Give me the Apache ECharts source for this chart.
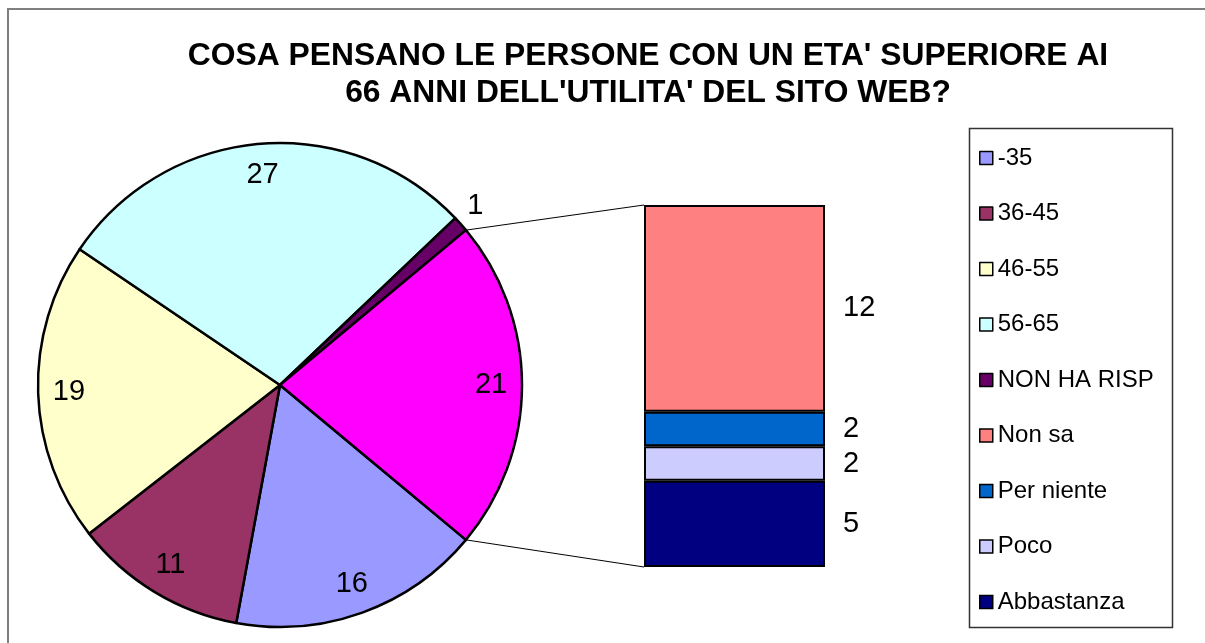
<!DOCTYPE html>
<html lang="it">
<head>
  <meta charset="UTF-8">
  <title>Utilità del sito web - over 66</title>
  <style>
    html, body { margin: 0; padding: 0; background: #fff; }
    #chart { width: 1205px; height: 643px; }
  </style>
</head>
<body>
<div id="chart"></div>
<script src="https://cdn.jsdelivr.net/npm/echarts@6/dist/echarts.min.js"></script>
<script>
  // dati della torta principale (in senso orario dal bordo basso della fetta "altro")
  var pieNames = ['-35', '36-45', '46-55', '56-65', 'NON HA RISP', 'Altro'];
  var pieValues = [16, 11, 19, 27, 1, 21];
  var pieColors = ['#9999FF', '#993366', '#FFFFCC', '#CCFFFF', '#660066', '#FF00FF'];

  // dati della barra (dal basso verso l'alto)
  var barNames = ['Abbastanza', 'Poco', 'Per niente', 'Non sa'];
  var barValues = [5, 2, 2, 12];
  var barColors = ['#000080', '#CCCCFF', '#0066CC', '#FF8080'];

  var legendNames = ['-35', '36-45', '46-55', '56-65', 'NON HA RISP', 'Non sa', 'Per niente', 'Poco', 'Abbastanza'];

  // layout
  var font = "'Liberation Sans', Arial, sans-serif";
  var cx = 280, cy = 385, R = 242;
  var barBox = { left: 644, top: 205, width: 181, height: 362 };

  var total = pieValues.reduce(function (a, b) { return a + b; }, 0);
  var other = pieValues[pieValues.length - 1];
  var half = other / total * 180;           // mezza ampiezza della fetta "altro"
  var barSum = barValues.reduce(function (a, b) { return a + b; }, 0);

  var pieData = pieNames.map(function (n, i) {
    return { name: n, value: pieValues[i], itemStyle: { color: pieColors[i] } };
  });
  var labelData = pieNames.map(function (n, i) {
    var d = { name: n, value: pieValues[i] };
    if (pieValues[i] / total < 0.03) {
      // fetta troppo piccola: etichetta fuori
      d.label = { position: 'outside', offset: [-9, -9] };
      d.labelLine = { show: false, length: 14, length2: 0 };
    }
    return d;
  });

  var barSeries = barNames.map(function (n, i) {
    return {
      name: n,
      type: 'bar',
      stack: 'altro',
      barWidth: '100%',
      data: [barValues[i]],
      itemStyle: { color: barColors[i], borderColor: '#000', borderWidth: 2 },
      label: {
        show: true, position: 'right', distance: 18,
        fontSize: 29, fontFamily: font, color: '#000'
      },
      emphasis: { disabled: true },
      silent: true
    };
  });

  // linee di collegamento torta -> barra
  var rad = half * Math.PI / 180;
  var px = cx + R * Math.cos(rad);
  var pyTop = cy - R * Math.sin(rad);
  var pyBot = cy + R * Math.sin(rad);

  var myChart = echarts.init(document.getElementById('chart'));
  var options = {
    animation: false,
    backgroundColor: '#fff',
    title: {
      text: "COSA PENSANO LE PERSONE CON UN ETA' SUPERIORE AI\n66 ANNI DELL'UTILITA' DEL SITO WEB?",
      left: 643,
      top: 33,
      textAlign: 'center',
      textStyle: { fontFamily: font, fontSize: 31.8, fontWeight: 'bold', color: '#000', lineHeight: 37 }
    },
    legend: {
      data: legendNames,
      orient: 'vertical',
      left: 979,
      top: 146,
      padding: 0,
      icon: 'rect',
      itemWidth: 13,
      itemHeight: 13,
      itemGap: 31.5,
      itemStyle: { borderColor: '#000', borderWidth: 1.5 },
      textStyle: { fontFamily: font, fontSize: 24, lineHeight: 24, color: '#000' },
      selectedMode: false
    },
    grid: { left: barBox.left, top: barBox.top, width: barBox.width, height: barBox.height },
    xAxis: { type: 'category', data: ['altro'], show: false },
    yAxis: { type: 'value', min: 0, max: barSum, show: false },
    series: [
      {
        name: 'torta',
        type: 'pie',
        center: [cx, cy],
        radius: R,
        startAngle: -half,
        clockwise: true,
        avoidLabelOverlap: false,
        label: { show: false },
        labelLine: { show: false },
        itemStyle: { borderColor: '#000', borderWidth: 2.5 },
        emphasis: { disabled: true },
        silent: true,
        data: pieData
      },
      {
        name: 'etichette',
        type: 'pie',
        center: [cx, cy],
        radius: [R * 0.72, R],
        startAngle: -half,
        clockwise: true,
        avoidLabelOverlap: false,
        itemStyle: { color: 'rgba(0,0,0,0)' },
        label: { show: true, position: 'inside', fontSize: 29, fontFamily: font, color: '#000', formatter: '{c}' },
        labelLine: { show: false },
        emphasis: { disabled: true },
        silent: true,
        data: labelData
      }
    ].concat(barSeries),
    graphic: [
      {
        type: 'rect', silent: true,
        shape: { x: 8, y: 9, width: 1230, height: 700 },
        style: { fill: 'none', stroke: '#7f7f7f', lineWidth: 2 }
      },
      {
        type: 'rect', silent: true,
        shape: { x: 969.5, y: 128.5, width: 203, height: 499 },
        style: { fill: 'none', stroke: '#333', lineWidth: 1.5 }
      },
      {
        type: 'line', silent: true,
        shape: { x1: px, y1: pyTop, x2: barBox.left, y2: barBox.top },
        style: { stroke: '#000', lineWidth: 1 }
      },
      {
        type: 'line', silent: true,
        shape: { x1: px, y1: pyBot, x2: barBox.left, y2: barBox.top + barBox.height },
        style: { stroke: '#000', lineWidth: 1 }
      }
    ]
  };

  myChart.setOption(options);
  window.addEventListener('resize', function () {
    myChart.resize();
  });
</script>
</body>
</html>
